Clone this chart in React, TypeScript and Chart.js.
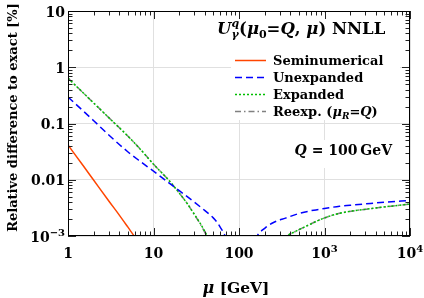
import React, { useEffect, useRef } from "react";
import { Chart, registerables } from "chart.js";

Chart.register(...registerables);

const W = 424;
const H = 298;

// ---- data ----
const muSemi = [1, 1.5, 2, 3, 4, 5, 6, 7];
const semiVals = [0.0415, 0.0179, 0.0098, 0.0042, 0.00233, 0.00145, 0.00098, 0.00072];

const muUnexp = [1, 2, 3, 5, 7, 10, 15, 20, 30, 40, 50, 55, 60, 68.6, 80, 105, 140, 163, 200, 250, 350, 500, 750, 1000, 1500, 2000, 3000, 5000, 10000];
const unexpVals = [0.296, 0.112, 0.0625, 0.0315, 0.0212, 0.0142, 0.0089, 0.0064, 0.004, 0.00282, 0.0021, 0.00178, 0.00145, 0.001, 0.0004, null, 0.00055, 0.001, 0.00137, 0.00172, 0.00208, 0.0025, 0.00288, 0.00308, 0.00338, 0.00352, 0.00372, 0.00398, 0.00428];

const muExp = [1, 2, 3, 5, 7, 10, 15, 20, 25, 30, 35, 40, 45, 50, 120, 300, 370, 450, 620, 970, 1500, 3700, 10000];
const expVals = [0.64, 0.231, 0.127, 0.06, 0.035, 0.0189, 0.0099, 0.0058, 0.0037, 0.00244, 0.0017, 0.00119, 0.00083, 0.00055, null, 0.0006, 0.001, 0.00119, 0.00151, 0.00206, 0.00253, 0.0031, 0.0037];

const muReexp = [1, 2, 3, 5, 7, 10, 15, 20, 25, 30, 35, 40, 45, 50, 120, 300, 370, 450, 620, 970, 1500, 3700, 10000];
const reexpVals = [0.64, 0.231, 0.127, 0.06, 0.035, 0.0189, 0.0099, 0.0058, 0.0037, 0.00242, 0.00166, 0.00115, 0.0008, 0.00052, null, 0.0006, 0.001, 0.00119, 0.00151, 0.00206, 0.00253, 0.0031, 0.0037];

const xTickValues = [1, 10, 100, 1000, 10000];
const xTickLabels: [string, string][] = [["1", ""], ["10", ""], ["100", ""], ["10", "3"], ["10", "4"]];
const yTickValues = [0.001, 0.01, 0.1, 1, 10];
const yTickLabels: [string, string][] = [["10", "\u22123"], ["0.01", ""], ["0.1", ""], ["1", ""], ["10", ""]];

const legendLabels = ["Seminumerical", "Unexpanded", "Expanded", "Reexp."];

const SERIF = '"DejaVu Serif", serif';

type Seg = { t: string; size: number; it?: boolean; up?: number; stack?: boolean; bold?: boolean };

function fontOf(s: Seg) {
  return `${s.it ? "italic " : ""}${s.bold === false ? "" : "bold "}${s.size}px ${SERIF}`;
}

function richWidth(ctx: CanvasRenderingContext2D, segs: Seg[]) {
  let w = 0;
  let stackW = 0;
  for (const s of segs) {
    ctx.font = fontOf(s);
    const m = ctx.measureText(s.t).width;
    if (s.stack) stackW = m;
    else {
      w += Math.max(m, stackW);
      stackW = 0;
    }
  }
  return w;
}

function drawRich(ctx: CanvasRenderingContext2D, segs: Seg[], x: number, y: number, align: "left" | "center" | "right" = "left") {
  const total = richWidth(ctx, segs);
  let cx = align === "left" ? x : align === "right" ? x - total : x - total / 2;
  let stackW = 0;
  ctx.textAlign = "left";
  ctx.textBaseline = "alphabetic";
  for (const s of segs) {
    ctx.font = fontOf(s);
    const m = ctx.measureText(s.t).width;
    ctx.fillText(s.t, cx, y - (s.up || 0));
    if (s.stack) stackW = m;
    else {
      cx += Math.max(m, stackW);
      stackW = 0;
    }
  }
}

const decorPlugin = {
  id: "decor",
  beforeDatasetsDraw(chart: any) {
    const ctx: CanvasRenderingContext2D = chart.ctx;
    ctx.save();
    ctx.fillStyle = "#ffffff";
    ctx.fillRect(214, 13, 186, 33);
    ctx.fillRect(231, 46, 169, 74);
    ctx.fillRect(290, 140, 110, 28);
    ctx.restore();
  },
  afterDraw(chart: any) {
    const ctx: CanvasRenderingContext2D = chart.ctx;
    const a = chart.chartArea;
    const xs = chart.scales.x;
    const ys = chart.scales.y;
    ctx.save();
    ctx.fillStyle = "#000";
    ctx.strokeStyle = "#222";
    ctx.lineWidth = 1;
    ctx.setLineDash([]);

    // inward ticks, all four sides
    const tick = (p: number, len: number, vertical: boolean) => {
      ctx.beginPath();
      if (vertical) {
        const px = Math.round(p) + 0.5;
        ctx.moveTo(px, a.bottom);
        ctx.lineTo(px, a.bottom - len);
        ctx.moveTo(px, a.top);
        ctx.lineTo(px, a.top + len);
      } else {
        const py = Math.round(p) + 0.5;
        ctx.moveTo(a.left, py);
        ctx.lineTo(a.left + len, py);
        ctx.moveTo(a.right, py);
        ctx.lineTo(a.right - len, py);
      }
      ctx.stroke();
    };
    for (const d of xTickValues) {
      tick(xs.getPixelForValue(d), 8, true);
      for (let k = 2; k <= 9; k++) {
        const v = d * k;
        if (v < xs.max) tick(xs.getPixelForValue(v), 4.5, true);
      }
    }
    for (const d of yTickValues) {
      tick(ys.getPixelForValue(d), 8, false);
      for (let k = 2; k <= 9; k++) {
        const v = d * k;
        if (v < ys.max) tick(ys.getPixelForValue(v), 4.5, false);
      }
    }

    // frame
    ctx.strokeStyle = "#000";
    ctx.strokeRect(a.left + 0.5, a.top + 0.5, a.right - a.left - 1, a.bottom - a.top - 1);

    // tick labels
    xTickValues.forEach((v, i) => {
      const [b, e] = xTickLabels[i];
      const segs: Seg[] = [{ t: b, size: 14 }];
      if (e) segs.push({ t: e, size: 10, up: 6 });
      drawRich(ctx, segs, xs.getPixelForValue(v), a.bottom + 22, "center");
    });
    yTickValues.forEach((v, i) => {
      const [b, e] = yTickLabels[i];
      const segs: Seg[] = [{ t: b, size: 14 }];
      if (e) segs.push({ t: e, size: 10, up: 6 });
      drawRich(ctx, segs, a.left - 3, ys.getPixelForValue(v) + 5.5, "right");
    });

    // axis titles
    drawRich(ctx, [{ t: "\u03bc", size: 16, it: true }, { t: " [GeV]", size: 15.5 }], (a.left + a.right) / 2 - 3, 293, "center");
    ctx.save();
    ctx.translate(17, (a.top + a.bottom) / 2 - 6);
    ctx.rotate(-Math.PI / 2);
    drawRich(ctx, [{ t: "Relative difference to exact [%]", size: 13 }], 0, 0, "center");
    ctx.restore();

    // title
    drawRich(
      ctx,
      [
        { t: "U", size: 16.5, it: true },
        { t: "q", size: 11, it: true, up: 7.5, stack: true },
        { t: "\u03b3", size: 11, it: true, up: -4 },
        { t: "(", size: 16.5 },
        { t: "\u03bc", size: 16.5, it: true },
        { t: "0", size: 11, up: -4 },
        { t: "=", size: 16.5 },
        { t: "Q", size: 16.5, it: true },
        { t: ", ", size: 16.5 },
        { t: "\u03bc", size: 16.5, it: true },
        { t: ")", size: 16.5 },
        { t: " NNLL", size: 16.5 },
      ],
      217,
      34,
      "left"
    );

    // legend
    const rowY = [60, 77, 94, 111];
    chart.data.datasets.forEach((ds: any, i: number) => {
      const y = rowY[i];
      ctx.save();
      ctx.strokeStyle = ds.borderColor;
      ctx.lineWidth = ds.borderWidth;
      ctx.setLineDash(ds.borderDash || []);
      ctx.beginPath();
      ctx.moveTo(235, y + 0.5);
      ctx.lineTo(266, y + 0.5);
      ctx.stroke();
      ctx.restore();
      const segs: Seg[] = [{ t: legendLabels[i], size: 13 }];
      if (i === 3) {
        segs.push({ t: " (", size: 13 });
        segs.push({ t: "\u03bc", size: 13, it: true });
        segs.push({ t: "R", size: 9, it: true, up: -3 });
        segs.push({ t: "=", size: 13 });
        segs.push({ t: "Q", size: 13, it: true });
        segs.push({ t: ")", size: 13 });
      }
      drawRich(ctx, segs, 273, y + 5, "left");
    });

    // Q label
    drawRich(
      ctx,
      [
        { t: "Q", size: 14, it: true },
        { t: " = ", size: 14 },
        { t: "100\u2009GeV", size: 14 },
      ],
      392,
      155,
      "right"
    );
    ctx.restore();
  },
};

function pts(xs: number[], ys: (number | null)[]) {
  return xs.map((x, i) => ({ x, y: ys[i] }));
}

export default function App() {
  const ref = useRef<HTMLCanvasElement | null>(null);
  useEffect(() => {
    if (!ref.current) return;
    const common = { pointRadius: 0, borderWidth: 1.5, fill: false, cubicInterpolationMode: "monotone", spanGaps: false, clip: 0 };
    const chart = new Chart(ref.current, {
      type: "line",
      data: {
        datasets: [
          { ...common, label: legendLabels[0], data: pts(muSemi, semiVals), borderColor: "rgb(255,69,0)", borderDash: [] },
          { ...common, label: legendLabels[1], data: pts(muUnexp, unexpVals), borderColor: "rgb(0,0,255)", borderDash: [7, 4] },
          { ...common, label: legendLabels[2], data: pts(muExp, expVals), borderColor: "rgb(0,190,0)", borderDash: [2, 2] },
          { ...common, label: legendLabels[3], data: pts(muReexp, reexpVals), borderColor: "rgb(128,128,128)", borderDash: [6, 3, 1.5, 3] },
        ] as any,
      },
      options: {
        responsive: false,
        animation: false,
        events: [],
        layout: { padding: { top: 11, right: 14, left: 0, bottom: 0 } },
        plugins: { legend: { display: false }, tooltip: { enabled: false }, title: { display: false } },
        scales: {
          x: {
            type: "logarithmic",
            min: 1,
            max: 10000,
            afterBuildTicks: (s: any) => {
              s.ticks = xTickValues.map((v) => ({ value: v }));
            },
            afterFit: (s: any) => {
              s.height = 62;
            },
            ticks: { display: false },
            grid: { color: "#e0e0e0", lineWidth: 1, drawTicks: false },
            border: { display: false },
          },
          y: {
            type: "logarithmic",
            min: 0.001,
            max: 10,
            afterBuildTicks: (s: any) => {
              s.ticks = yTickValues.map((v) => ({ value: v }));
            },
            afterFit: (s: any) => {
              s.width = 68;
            },
            ticks: { display: false },
            grid: { color: "#e0e0e0", lineWidth: 1, drawTicks: false },
            border: { display: false },
          },
        },
      } as any,
      plugins: [decorPlugin],
    });
    return () => chart.destroy();
  }, []);
  return (
    <div style={{ position: "fixed", left: 0, top: 0, width: W, height: H, background: "#fff" }}>
      <canvas ref={ref} width={W} height={H} style={{ width: W, height: H, display: "block" }} />
    </div>
  );
}
